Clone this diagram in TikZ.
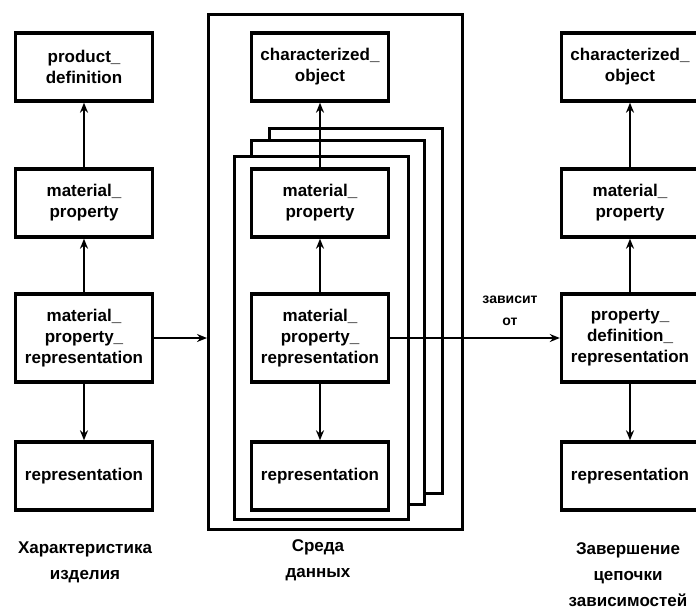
\documentclass[tikz,border=0pt]{standalone}
\usepackage{fontspec}
\setmainfont{Liberation Sans}
\usepackage{tikz}
\usetikzlibrary{positioning}
\usetikzlibrary{arrows.meta}

\begin{document}
\begin{tikzpicture}[
        x = 1pt, y = -1pt,
        entity/.style = {
            draw,
            fill = white,
            line width = 3.4pt,
            minimum width = 137pt,
            minimum height = #1,
            align = center,
            inner sep = 2pt,
            font = \fontsize{17}{21}\selectfont\bfseries
        },
        entity/.default = 68pt,
        sheet/.style = {
            draw,
            fill = white,
            line width = 3pt,
            anchor = north west,
            minimum width = 173pt,
            minimum height = #1
        },
        caption/.style = {
            align = center,
            font = \fontsize{17}{26}\selectfont\bfseries
        },
        link/.style = {
            line width = 2.8pt,
            -{Stealth[length=10pt, width=8pt]}
        }
        ]
        \clip (0,0) rectangle (696,614);
%
        \node[draw, line width=3pt, anchor=north west, minimum width=254pt, minimum height=515pt] (env) at (207,13) {};
        \node[sheet=365pt] (sheet3) at (268,127) {};
        \node[sheet=364pt] (sheet2) at (250,139) {};
        \node[sheet=363pt, minimum width=174pt] (sheet1) at (233,155) {};
%
% left column
        \node[entity] (lpd) at (84,67) {product\_\\definition};
        \node[entity, below=64.6pt of lpd] (lmp) {material\_\\property};
        \node[entity=88pt, below=53.6pt of lmp] (lmpr) {material\_\\property\_\\representation};
        \node[entity, below=56.6pt of lmpr] (lrep) {representation};
%
% data environment
        \node[entity] (mco) at (320,67) {characterized\_\\object};
        \node[entity, below=64.6pt of mco] (mmp) {material\_\\property};
        \node[entity=88pt, below=53.6pt of mmp] (mmpr) {material\_\\property\_\\representation};
        \node[entity, below=56.6pt of mmpr] (mrep) {representation};
%
% right column
        \node[entity] (rco) at (630,67) {characterized\_\\object};
        \node[entity, below=64.6pt of rco] (rmp) {material\_\\property};
        \node[entity=88pt, below=53.6pt of rmp] (rpdr) {property\_\\definition\_\\representation};
        \node[entity, below=56.6pt of rpdr] (rrep) {representation};
%
        \node[caption] (capl) at (85,562) {Характеристика\\изделия};
        \node[caption] (capm) at (318,560) {Среда\\данных};
        \node[caption] (capr) at (628,575) {Завершение\\цепочки\\зависимостей};
        \node[align=center, font=\fontsize{14}{22}\selectfont\bfseries] (dep) at (510,311) {зависит\\от};
%
        \coordinate (envin) at (lmpr.east -| env.west);
%
        \draw[link] (lmp) -- (lpd);
        \draw[link] (lmpr) -- (lmp);
        \draw[link] (lmpr) -- (lrep);
        \draw[link] (lmpr) -- (envin);
%
        \draw[link] (mmp) -- (mco);
        \draw[link] (mmpr) -- (mmp);
        \draw[link] (mmpr) -- (mrep);
        \draw[link] (mmpr) -- (rpdr);
%
        \draw[link] (rmp) -- (rco);
        \draw[link] (rpdr) -- (rmp);
        \draw[link] (rpdr) -- (rrep);
    \end{tikzpicture}
\end{document}
